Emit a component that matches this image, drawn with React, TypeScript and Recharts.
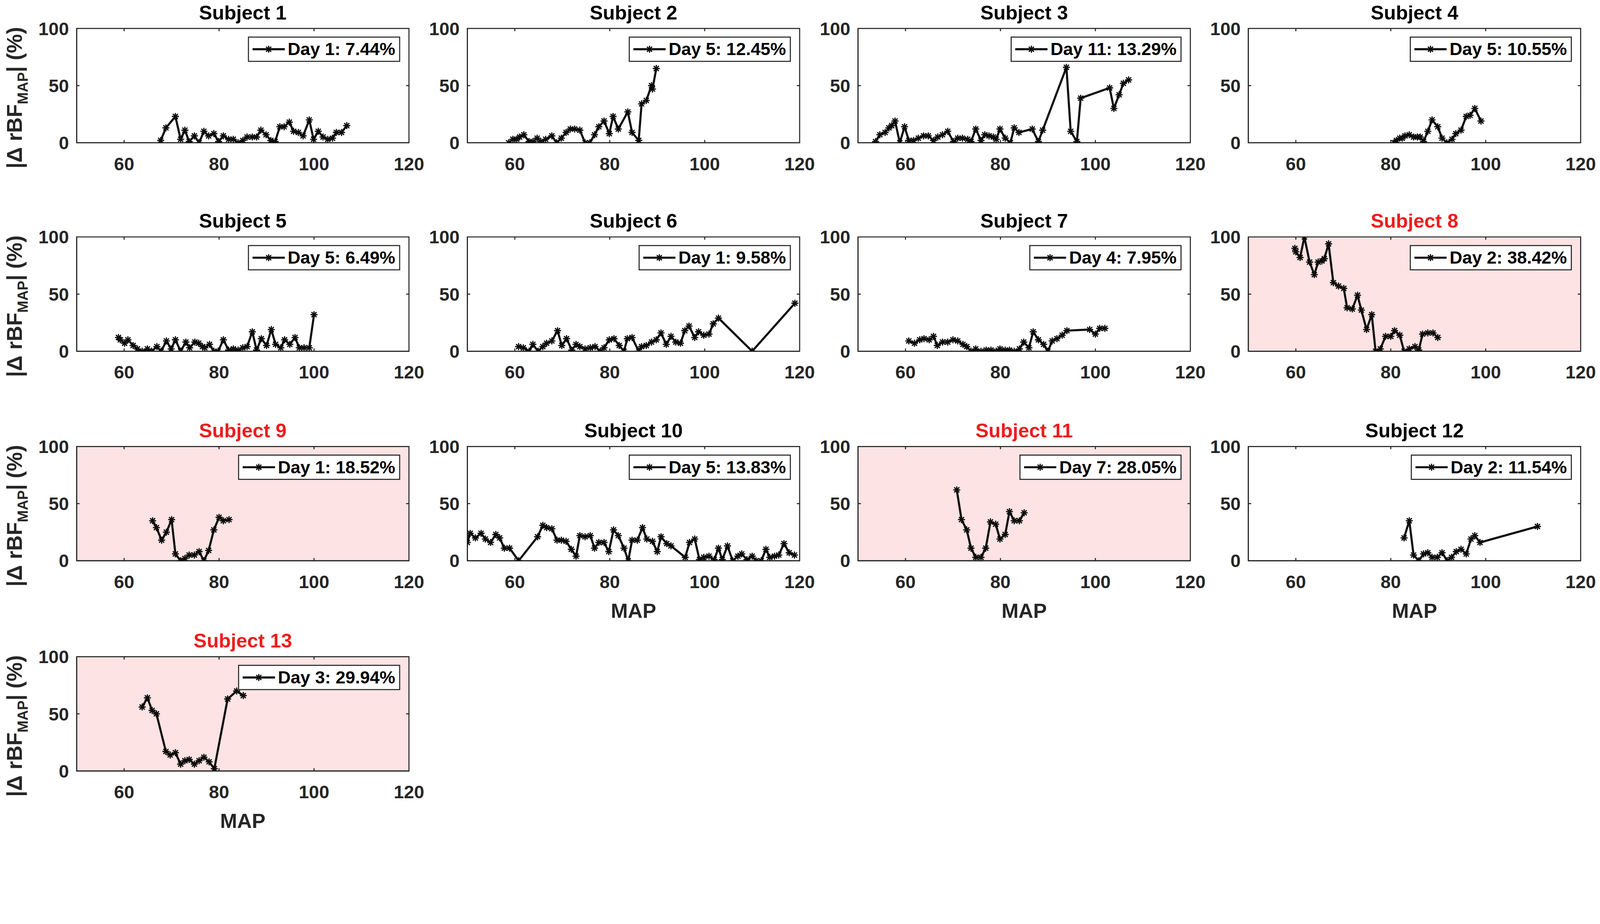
import React, { useLayoutEffect, useState } from 'react'
import { CartesianGrid, Label, Legend, Line, LineChart, ReferenceArea, ReferenceLine, XAxis, YAxis } from 'recharts'

type Pt = [number, number]

// [MAP, |Δ rBF_MAP| (%)]
const subject1: Pt[] = [[67.7,2],[68.8,13],[70.8,23],[71.9,3],[72.8,11],[73.7,1],[74.8,6],[75.8,0],[76.8,10],[77.8,6],[78.9,8],[79.9,1],[80.9,6],[82.0,3],[83.0,3],[84.0,0],[85.0,2],[85.9,5],[87.0,5],[87.9,5],[88.8,11],[89.9,7],[90.9,2],[91.8,1],[92.8,14],[93.7,14],[94.8,18],[95.7,10],[96.7,9],[97.7,6],[99.0,20],[99.9,3],[100.9,10],[101.9,5],[102.9,3],[103.9,4],[104.7,9],[105.8,9],[106.9,15]]
const subject2: Pt[] = [[58.7,0],[59.6,3],[60.4,3],[61.0,5],[61.9,7],[63.0,1],[63.8,1],[64.7,4],[65.5,1],[66.5,3],[67.8,6],[68.8,0],[69.8,4],[70.8,9],[71.7,12],[72.6,12],[73.7,11],[74.8,0],[75.8,0],[76.8,7],[77.7,14],[78.8,19],[79.9,8],[80.7,23],[81.8,12],[83.8,27],[84.7,9],[86.1,2],[86.7,34],[87.7,37],[88.8,50],[89.0,47],[89.8,65]]
const subject3: Pt[] = [[53.7,1],[54.6,7],[55.7,9],[56.5,13],[57.1,15],[57.8,19],[58.8,0],[59.8,14],[60.7,2],[61.7,2],[62.7,4],[63.8,6],[64.8,6],[65.9,2],[66.8,5],[67.8,7],[68.9,10],[70.1,1],[71.0,4],[72.0,4],[73.1,3],[73.8,1],[74.8,12],[75.9,2],[76.7,7],[77.6,6],[78.5,5],[79.1,3],[79.9,12],[81.0,4],[82.1,0],[82.9,13],[83.9,9],[86.7,12],[88.0,1],[88.9,11],[93.9,66],[94.8,10],[96.1,1],[96.9,39],[103.0,48],[103.9,30],[105.0,42],[105.9,52],[107.0,55]]
const subject4: Pt[] = [[80.7,0],[81.2,2],[81.9,4],[82.4,4],[83.0,6],[83.9,7],[84.8,5],[85.6,5],[86.2,5],[86.9,1],[87.8,10],[88.7,20],[89.9,14],[90.8,4],[91.8,0],[92.9,3],[93.7,8],[94.8,11],[95.9,23],[96.7,24],[97.7,30],[99.0,19]]
const subject5: Pt[] = [[58.8,12],[59.2,10],[60.1,7],[60.8,10],[61.9,5],[62.8,2],[63.8,0],[64.9,2],[65.8,0],[66.9,4],[67.8,0],[68.9,9],[69.9,2],[70.8,10],[71.9,0],[73.0,8],[73.8,3],[74.9,8],[75.7,7],[76.5,4],[77.0,3],[78.0,6],[78.9,0],[79.8,0],[80.9,10],[82.0,1],[83.0,2],[84.0,1],[85.0,3],[85.9,4],[87.0,17],[87.9,1],[88.9,11],[90.0,5],[91.0,19],[91.9,6],[93.0,3],[93.8,10],[94.9,6],[96.0,12],[96.9,3],[97.9,3],[99.0,3],[100.0,32]]
const subject6: Pt[] = [[60.8,4],[61.8,3],[63.0,0],[63.8,6],[64.9,0],[65.9,4],[66.7,7],[67.8,9],[69.0,18],[69.9,5],[70.9,11],[72.0,1],[72.9,6],[73.7,4],[74.8,2],[75.9,3],[76.9,4],[78.0,0],[78.8,3],[79.9,10],[80.9,11],[82.0,5],[83.0,0],[83.7,11],[84.7,12],[86.1,0],[86.7,4],[87.7,5],[88.8,8],[89.8,10],[90.8,16],[91.9,6],[92.9,13],[93.9,8],[94.9,7],[95.8,18],[96.7,22],[97.9,12],[98.7,17],[99.8,14],[100.9,15],[101.8,24],[102.9,29],[110.0,0],[119.0,42]]
const subject7: Pt[] = [[60.7,9],[61.9,7],[63.0,10],[63.9,11],[65.0,10],[65.9,13],[66.7,5],[67.8,8],[68.9,8],[70.0,10],[71.0,9],[72.1,6],[72.9,4],[73.8,0],[74.8,2],[75.9,0],[77.0,1],[78.0,1],[79.1,0],[79.9,2],[81.0,1],[81.9,1],[82.9,0],[84.0,2],[84.9,8],[86.0,3],[86.9,17],[88.0,10],[89.1,6],[90.0,0],[90.9,9],[91.9,11],[93.0,14],[94.0,18],[98.8,19],[100.0,15],[100.9,20],[102.0,20]]
const subject8: Pt[] = [[59.8,90],[60.0,87],[60.9,82],[61.8,100],[62.9,78],[63.9,67],[64.7,78],[65.5,79],[66.0,81],[66.9,94],[67.9,60],[69.0,57],[70.1,55],[70.8,38],[71.9,37],[73.0,49],[73.8,36],[74.9,19],[76.0,32],[76.8,0],[77.8,2],[78.9,13],[80.0,13],[80.8,18],[81.9,14],[82.8,0],[83.9,2],[85.1,4],[85.9,1],[86.7,15],[87.8,16],[88.9,16],[89.9,12]]
const subject9: Pt[] = [[66.0,35],[66.8,29],[67.9,18],[68.9,25],[70.0,36],[70.8,6],[71.9,0],[72.8,2],[73.7,5],[74.8,5],[75.8,8],[76.8,0],[77.8,9],[78.9,27],[80.0,38],[80.9,35],[82.1,36]]
const subject10: Pt[] = [[50.0,16],[50.6,24],[51.7,20],[52.9,24],[53.8,19],[54.9,16],[56.0,23],[56.8,20],[57.8,11],[58.9,11],[60.8,0],[64.8,21],[65.9,31],[66.7,29],[67.8,28],[68.9,18],[69.8,18],[70.8,17],[71.9,10],[72.9,4],[73.7,22],[74.8,21],[75.9,22],[76.8,11],[77.7,16],[78.8,16],[79.8,8],[80.8,27],[81.8,22],[83.0,11],[83.9,0],[84.7,18],[85.8,18],[86.9,29],[87.8,19],[89.0,17],[90.0,8],[90.8,21],[92.0,15],[92.9,13],[95.9,3],[96.8,16],[97.9,19],[98.9,1],[99.8,3],[100.9,4],[102.0,1],[102.9,11],[103.7,1],[104.8,13],[105.9,0],[107.0,4],[107.8,6],[108.9,1],[110.0,4],[110.8,0],[111.9,0],[112.9,10],[113.7,3],[114.7,4],[115.6,5],[116.7,15],[117.8,7],[118.9,5]]
const subject11: Pt[] = [[70.8,62],[71.8,36],[72.9,27],[73.8,11],[74.8,3],[75.9,3],[76.9,11],[77.9,34],[79.0,32],[79.9,19],[81.0,23],[81.9,43],[82.9,35],[84.0,35],[85.0,42]]
const subject12: Pt[] = [[82.8,20],[83.9,35],[84.8,5],[85.9,0],[86.9,6],[87.8,7],[88.7,3],[89.8,3],[90.8,7],[91.9,0],[92.8,3],[93.8,8],[94.8,10],[95.9,6],[96.9,19],[97.7,22],[98.8,16],[110.9,30]]
const subject13: Pt[] = [[63.8,56],[64.9,64],[65.9,53],[66.8,50],[68.8,17],[69.7,14],[70.8,16],[71.9,6],[72.8,9],[73.7,10],[74.8,6],[75.8,9],[76.8,12],[77.9,8],[79.0,2],[81.8,63],[83.7,70],[85.1,66]]

const subjectData = [subject1, subject2, subject3, subject4, subject5, subject6, subject7, subject8, subject9, subject10, subject11, subject12, subject13]
const subjectTitles = ['Subject 1', 'Subject 2', 'Subject 3', 'Subject 4', 'Subject 5', 'Subject 6', 'Subject 7', 'Subject 8', 'Subject 9', 'Subject 10', 'Subject 11', 'Subject 12', 'Subject 13']
const legendLabels = ['Day 1: 7.44%', 'Day 5: 12.45%', 'Day 11: 13.29%', 'Day 5: 10.55%', 'Day 5: 6.49%', 'Day 1: 9.58%', 'Day 4: 7.95%', 'Day 2: 38.42%', 'Day 1: 18.52%', 'Day 5: 13.83%', 'Day 7: 28.05%', 'Day 2: 11.54%', 'Day 3: 29.94%']
const flaggedSubjects = [8, 9, 11, 13]
const mapTicks = [60, 80, 100, 120]
const rbfTicks = [0, 50, 100]

const FONT = '"Liberation Sans", Arial, Helvetica, sans-serif'
const AX = '#262626'
const INK = '#0d0d0d'
const PINK = '#fde3e3'
const RED = '#ee1c1c'

const PAGE_W = 4550
const PAGE_H = 2366
const CHART_W = 1243
const CHART_H = 590
const colLeft = [0, 1111, 2222, 3332]
const rowTop = [0, 593, 1189, 1787]

const starPath = (cx: number, cy: number, r: number) => {
  const d = r * 0.72
  return `M${cx - r},${cy}H${cx + r}M${cx},${cy - r}V${cy + r}M${cx - d},${cy - d}L${cx + d},${cy + d}M${cx - d},${cy + d}L${cx + d},${cy - d}`
}

const renderStar = (props: any) => {
  const { cx, cy, index } = props
  if (cx == null || cy == null) return <g key={`st-${index}`} />
  return <path key={`st-${index}`} d={starPath(cx, cy, 10)} stroke={INK} strokeWidth={3.5} fill="none" />
}

const renderLegend = (props: any) => {
  const item = props.payload && props.payload[0]
  return (
    <div
      style={{
        display: 'flex',
        alignItems: 'center',
        height: 72,
        boxSizing: 'border-box',
        border: `3px solid ${AX}`,
        background: '#fff',
        padding: '0 11px 0 10px',
        fontFamily: FONT,
        fontWeight: 700,
        fontSize: 50,
        color: '#000',
        whiteSpace: 'nowrap',
      }}
    >
      <svg width={92} height={30} style={{ display: 'block' }}>
        <line x1={0} y1={15} x2={92} y2={15} stroke={INK} strokeWidth={6} />
        <path d={starPath(46, 15, 10)} stroke={INK} strokeWidth={3.5} fill="none" />
      </svg>
      <span style={{ marginLeft: 8 }}>{item ? item.value : ''}</span>
    </div>
  )
}

const YLabel = () => (
  <text
    x={62}
    y={278}
    transform="rotate(-90 62 278)"
    textAnchor="middle"
    fontSize={61}
    fontWeight={700}
    fill={AX}
    fontFamily={FONT}
  >
    <tspan>|Δ rBF</tspan>
    <tspan dy={17} fontSize={41}>MAP</tspan>
    <tspan dy={-17}>| (%)</tspan>
  </text>
)

function Panel({ index }: { index: number }) {
  const row = Math.floor(index / 4)
  const col = index % 4
  const subjectNo = index + 1
  const flagged = flaggedSubjects.includes(subjectNo)
  const data = subjectData[index].map(([map, val]) => ({ map, val }))
  const showMap = index >= 9
  const left = colLeft[col]
  const top = rowTop[row]
  const tickStyle = { fontSize: 52, fontWeight: 700, fill: AX, fontFamily: FONT }

  return (
    <>
      <div
        style={{
          position: 'absolute',
          left: left + 218,
          top: top + 8,
          width: 945,
          textAlign: 'center',
          fontSize: 56,
          lineHeight: '56px',
          fontWeight: 700,
          fontFamily: FONT,
          color: flagged ? RED : '#000',
        }}
      >
        {subjectTitles[index]}
      </div>
      <div style={{ position: 'absolute', left, top }}>
        <LineChart width={CHART_W} height={CHART_H} data={data} margin={{ top: 81, right: 80, bottom: 4, left: 18 }}>
          <CartesianGrid horizontal={false} vertical={false} fill={flagged ? PINK : '#fff'} fillOpacity={1} />
          <XAxis
            dataKey="map"
            type="number"
            domain={[50, 120]}
            ticks={mapTicks}
            interval={0}
            allowDataOverflow
            tickLine={false}
            tickSize={0}
            tickMargin={41}
            height={180}
            axisLine={{ stroke: AX, strokeWidth: 3 }}
            tick={tickStyle}
          >
            {showMap && (
              <Label value="MAP" position="insideBottom" offset={18} fontSize={58} fontWeight={700} fill={AX} fontFamily={FONT} />
            )}
          </XAxis>
          <YAxis
            type="number"
            domain={[0, 100]}
            ticks={rbfTicks}
            interval={0}
            allowDataOverflow
            width={200}
            tickLine={false}
            tickSize={0}
            tickMargin={22}
            axisLine={{ stroke: AX, strokeWidth: 3 }}
            tick={tickStyle}
            label={col === 0 ? <YLabel /> : undefined}
          />
          <ReferenceArea x1={50} x2={120} y1={0} y2={100} fill="none" stroke={AX} strokeWidth={3} ifOverflow="visible" />
          {mapTicks.slice(0, 3).map((t) => (
            <ReferenceLine key={`b${t}`} segment={[{ x: t, y: 0 }, { x: t, y: 2.4 }]} stroke={AX} strokeWidth={3} />
          ))}
          {mapTicks.slice(0, 3).map((t) => (
            <ReferenceLine key={`t${t}`} segment={[{ x: t, y: 100 }, { x: t, y: 97.6 }]} stroke={AX} strokeWidth={3} />
          ))}
          <ReferenceLine segment={[{ x: 50, y: 50 }, { x: 50.6, y: 50 }]} stroke={AX} strokeWidth={3} />
          <ReferenceLine segment={[{ x: 120, y: 50 }, { x: 119.4, y: 50 }]} stroke={AX} strokeWidth={3} />
          <Line
            type="linear"
            dataKey="val"
            name={legendLabels[index]}
            stroke={INK}
            strokeWidth={6}
            strokeLinejoin="round"
            dot={renderStar}
            activeDot={false}
            isAnimationActive={false}
          />
          <Legend
            layout="horizontal"
            verticalAlign="middle"
            align="center"
            content={renderLegend}
            wrapperStyle={{ top: 104, right: 105, left: 'auto', bottom: 'auto', width: 'auto', height: 'auto' }}
          />
        </LineChart>
      </div>
    </>
  )
}

export default function App() {
  const [scale, setScale] = useState(1)

  useLayoutEffect(() => {
    document.documentElement.style.overflow = 'hidden'
    document.body.style.overflow = 'hidden'
    const fit = () => setScale(Math.min(window.innerWidth / PAGE_W, window.innerHeight / PAGE_H))
    fit()
    window.addEventListener('resize', fit)
    return () => window.removeEventListener('resize', fit)
  }, [])

  return (
    <div
      style={{
        position: 'absolute',
        left: 0,
        top: 0,
        width: PAGE_W,
        height: PAGE_H,
        background: '#fff',
        fontFamily: FONT,
        overflow: 'hidden',
        transform: `scale(${scale})`,
        transformOrigin: '0 0',
      }}
    >
      {subjectData.map((_, i) => (
        <Panel key={i} index={i} />
      ))}
    </div>
  )
}
